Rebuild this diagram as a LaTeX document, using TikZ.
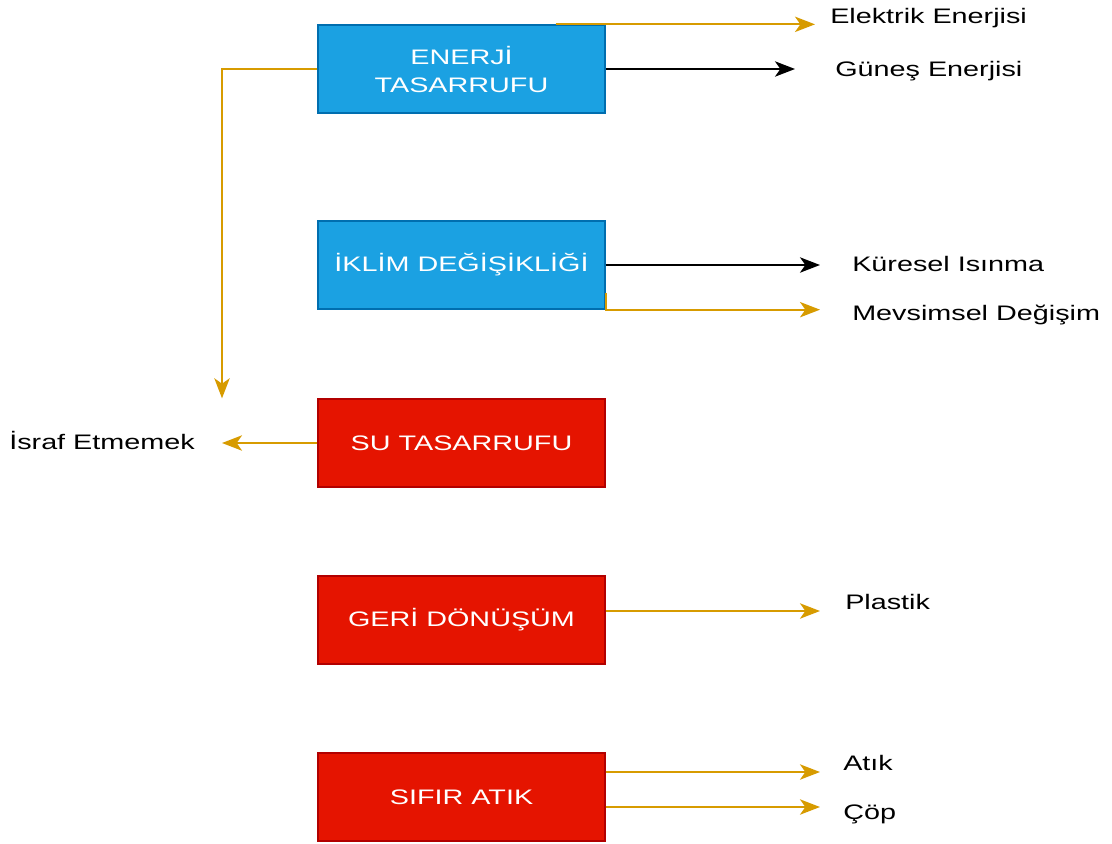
\documentclass[tikz,border=0pt]{standalone}
\usepackage{fontspec}
\setmainfont{Liberation Sans}[FakeStretch=1.37]
\usetikzlibrary{arrows.meta,positioning}
\definecolor{BoxBlue}{HTML}{1BA1E2}
\definecolor{BoxBlueLine}{HTML}{006EAF}
\definecolor{BoxRed}{HTML}{E51400}
\definecolor{BoxRedLine}{HTML}{B20000}
\definecolor{ArrOrange}{HTML}{D79B00}

\begin{document}
\begin{tikzpicture}[x=0.75pt,y=-0.75pt,
  every node/.style={font=\fontsize{15.75}{21}\selectfont},
  box/.style={draw,line width=1pt,minimum width=215.25pt,minimum height=66pt,
    text=white,align=center,inner sep=0pt},
  bluebox/.style={box,fill=BoxBlue,draw=BoxBlueLine},
  redbox/.style={box,fill=BoxRed,draw=BoxRedLine},
  lbl/.style={inner sep=0pt,anchor=base west},
  arr/.style={line width=1.5pt,-{Stealth[length=15pt,width=11.5pt,inset=4pt]}},
  oarr/.style={arr,draw=ArrOrange},
  barr/.style={arr,draw=black}]
\useasboundingbox (0,0) rectangle (1112,843);

% boxes
\node[bluebox] (enerji) at (461.5,69) {ENERJİ\\TASARRUFU};
\node[bluebox] (iklim) at (461.5,265) {İKLİM DEĞİŞİKLİĞİ};
\node[redbox] (su) at (461.5,443) {SU TASARRUFU};
\node[redbox] (geri) at (461.5,620) {GERİ DÖNÜŞÜM};
\node[redbox] (sifir) at (461.5,797) {SIFIR ATIK};

% labels
\node[lbl] (elektrik) at (830,23) {Elektrik Enerjisi};
\node[lbl] (gunes) at (835,76) {Güneş Enerjisi};
\node[lbl] (kuresel) at (852,271) {Küresel Isınma};
\node[lbl] (mevsim) at (852,320) {Mevsimsel Değişim};
\node[lbl,anchor=base east] (israf) at (195,449) {İsraf Etmemek};
\node[lbl] (plastik) at (845,609) {Plastik};
\node[lbl] (atik) at (843,770) {Atık};
\node[lbl] (cop) at (843,819) {Çöp};

% start points on the box edges
\coordinate (enerjiTop) at ([xshift=-37.5pt]enerji.north east);
\coordinate (iklimLow) at ([yshift=12.75pt]iklim.south east);
\coordinate (geriOut) at ([yshift=6.75pt]geri.east);
\coordinate (atikOut) at ([yshift=18.75pt]sifir.east);
\coordinate (copOut) at ([yshift=-7.5pt]sifir.east);

% connectors
\draw[oarr] (enerjiTop) -- ([xshift=-11.25pt]elektrik.west |- enerjiTop);
\draw[barr] (enerji.east) -- ([xshift=-30pt]gunes.west |- enerji.east);
\draw[barr] (iklim.east) -- ([xshift=-24pt]kuresel.west |- iklim.east);
\draw[oarr] (iklimLow) -- (iklim.south east) -- ([xshift=-24pt]mevsim.west |- iklim.south);
\draw[oarr] (enerji.west) -| ([xshift=20.25pt]israf.east |- su.north);
\draw[oarr] (su.west) -- ([xshift=20.25pt]israf.east |- su.west);
\draw[oarr] (geriOut) -- ([xshift=-18.75pt]plastik.west |- geriOut);
\draw[oarr] (atikOut) -- ([xshift=-17.25pt]atik.west |- atikOut);
\draw[oarr] (copOut) -- ([xshift=-17.25pt]cop.west |- copOut);
\end{tikzpicture}
\end{document}
